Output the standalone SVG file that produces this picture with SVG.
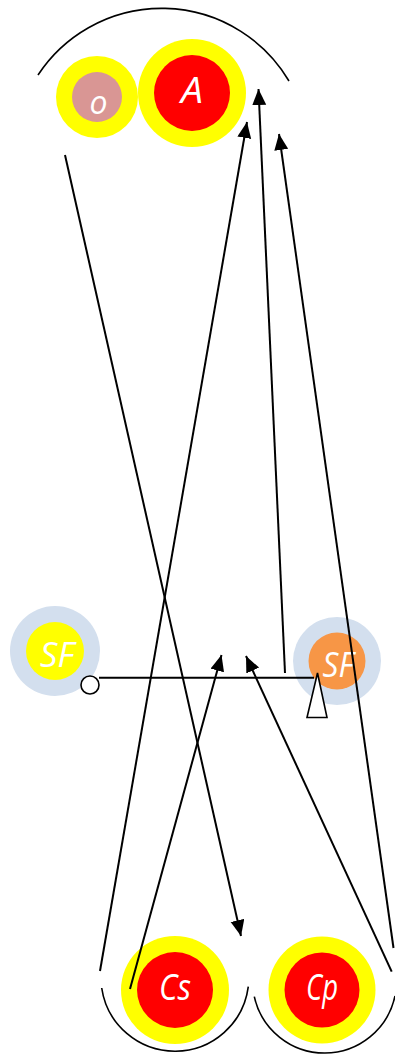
<svg xmlns="http://www.w3.org/2000/svg" width="395" height="1059" viewBox="0 0 395 1059">
<defs>
<marker id="arr" markerUnits="userSpaceOnUse" markerWidth="17" markerHeight="15" refX="16" refY="7" orient="auto">
<path d="M0,0 L16,7 L0,14 Z" fill="#000"/>
</marker>
</defs>
<style>
.arc{fill:none;stroke:#000;stroke-width:1.6}
.ln{fill:none;stroke:#000;stroke-width:2}
.y{fill:#FFFF00}
.r{fill:#FF0000}
.b{fill:#D3DFEE}
.t{font-family:"Open Sans","Liberation Sans",sans-serif;font-style:italic;fill:#fff;text-anchor:middle}
</style>
<rect width="395" height="1059" fill="#fff"/>
<g id="group-top">
<path class="arc" d="M38,75 A148,148 0 0 1 289,81"/>
</g>
<g id="node-o">
<circle class="y" cx="97" cy="97" r="41"/>
<circle cx="97" cy="97" r="25" fill="#D99694"/>
<text class="t" x="98.5" y="113.5" font-size="32">o</text>
</g>
<g id="node-A">
<circle class="y" cx="192" cy="93" r="54"/>
<circle class="r" cx="192" cy="93" r="38"/>
<text class="t" x="192" y="103" font-size="36" textLength="22" lengthAdjust="spacingAndGlyphs">A</text>
</g>
<g id="node-SF-left">
<circle class="b" cx="55" cy="651" r="45"/>
<circle class="y" cx="55" cy="651" r="29"/>
<text class="t" x="57" y="667" font-size="34" textLength="34" lengthAdjust="spacingAndGlyphs">SF</text>
</g>
<g id="node-SF-right">
<circle class="b" cx="337" cy="661" r="44"/>
<circle cx="337" cy="661" r="28.5" fill="#F79646"/>
<text class="t" x="338" y="677" font-size="34" textLength="31" lengthAdjust="spacingAndGlyphs">SF</text>
</g>
<g id="node-Cs">
<path class="arc" d="M101.7,988 A74,74 0 0 0 248.3,986.7"/>
<circle class="y" cx="175" cy="990" r="54"/>
<circle class="r" cx="175" cy="990" r="38"/>
<text class="t" x="175" y="1000" font-size="36" textLength="32" lengthAdjust="spacingAndGlyphs">Cs</text>
</g>
<g id="node-Cp">
<path class="arc" d="M254.3,996.7 A72,72 0 0 0 395,996"/>
<circle class="y" cx="322" cy="990" r="53.5"/>
<circle class="r" cx="322" cy="990" r="37.5"/>
<text class="t" x="322" y="1000" font-size="36" textLength="32" lengthAdjust="spacingAndGlyphs">Cp</text>
</g>
<g id="connectors">
<line class="ln" x1="65" y1="155" x2="241" y2="936" marker-end="url(#arr)"/>
<line class="ln" x1="100" y1="971" x2="247" y2="122" marker-end="url(#arr)"/>
<line class="ln" x1="130" y1="989" x2="221.5" y2="655" marker-end="url(#arr)"/>
<line class="ln" x1="285" y1="673" x2="258.5" y2="89" marker-end="url(#arr)"/>
<line class="ln" x1="393.5" y1="948" x2="279" y2="134" marker-end="url(#arr)"/>
<line class="ln" x1="391.7" y1="971.7" x2="246" y2="656" marker-end="url(#arr)"/>
<line class="ln" x1="99" y1="677.7" x2="314" y2="677.7"/>
<circle cx="90" cy="685" r="9" fill="#fff" stroke="#000" stroke-width="1.6"/>
<polygon points="317.5,673 307,717.5 327,717.5" fill="#fff" stroke="#000" stroke-width="1.6"/>
</g>
</svg>
